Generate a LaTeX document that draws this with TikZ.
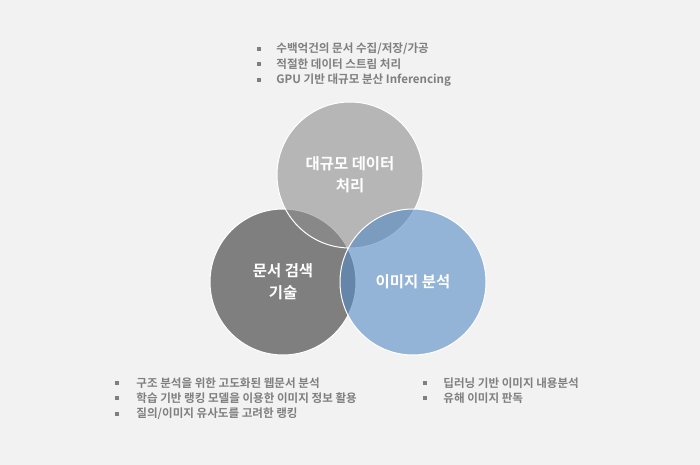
\documentclass[tikz,border=0pt]{standalone}
\usepackage{fontspec}
\newfontfamily\kr{Noto Sans CJK KR}[BoldFont={Noto Sans CJK KR Bold}]
\usetikzlibrary{positioning}
\definecolor{bggray}{HTML}{F2F2F2}
\definecolor{darkgray}{HTML}{7F7F7F}
\definecolor{midgray}{HTML}{8E8E8E}
\definecolor{softblue}{HTML}{5589C5}
\definecolor{txtgray}{HTML}{7F7F7F}

\begin{document}
\begin{tikzpicture}[x=1bp, y=-1bp,
    circ/.style={circle, minimum size=146bp, draw=white, line width=1bp,
        text=white, text opacity=1, align=center,
        font=\kr\bfseries\fontsize{15.5}{22}\selectfont},
    dot/.style={fill=txtgray, minimum size=4bp, inner sep=0pt},
    item/.style={text=txtgray, inner sep=0pt, anchor=west,
        font=\kr\bfseries\fontsize{11.6}{13}\selectfont}]
    % Background
    \fill[bggray] (0,0) rectangle (700,465);

    % Circles
    \node[circ, fill=darkgray] (search) at (283,282) {문서 검색\\기술};
    \node[circ, fill=midgray, fill opacity=0.6] (bigdata) at (350,175) {대규모 데이터\\처리};
    \node[circ, fill=softblue, fill opacity=0.6] (image) at (413,282) {이미지 분석};

    % Top list
    \node[dot] (t1) at (259,49) {};
    \node[item, right=15bp of t1] (t1txt) {수백억건의 문서 수집/저장/가공};
    \node[dot, below=11bp of t1] (t2) {};
    \node[item, right=15bp of t2] (t2txt) {적절한 데이터 스트림 처리};
    \node[dot, below=11bp of t2] (t3) {};
    \node[item, right=15bp of t3] (t3txt) {GPU 기반 대규모 분산 Inferencing};

    % Bottom left list
    \node[dot] (l1) at (117,383) {};
    \node[item, right=17bp of l1] (l1txt) {구조 분석을 위한 고도화된 웹문서 분석};
    \node[dot, below=11bp of l1] (l2) {};
    \node[item, right=17bp of l2] (l2txt) {학습 기반 랭킹 모델을 이용한 이미지 정보 활용};
    \node[dot, below=11bp of l2] (l3) {};
    \node[item, right=17bp of l3] (l3txt) {질의/이미지 유사도를 고려한 랭킹};

    % Bottom right list
    \node[dot] (r1) at (425,383) {};
    \node[item, right=16bp of r1] (r1txt) {딥러닝 기반 이미지 내용분석};
    \node[dot, below=11bp of r1] (r2) {};
    \node[item, right=16bp of r2] (r2txt) {유해 이미지 판독};
\end{tikzpicture}
\end{document}
